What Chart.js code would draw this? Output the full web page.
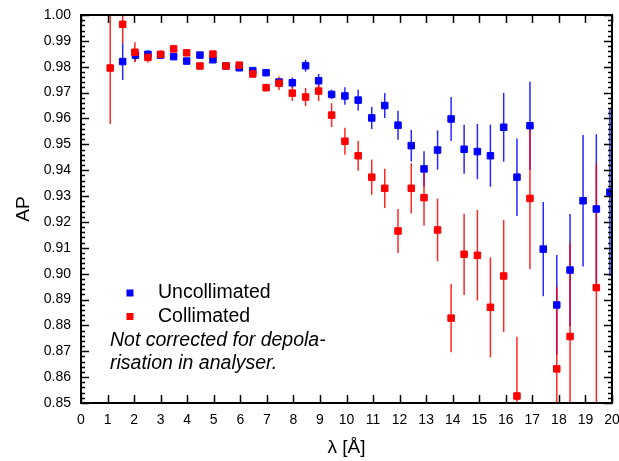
<!DOCTYPE html>
<html>
<head>
<meta charset="utf-8">
<script src="https://cdn.jsdelivr.net/npm/chart.js@4/dist/chart.umd.min.js"></script>
<style>
  html, body { margin: 0; padding: 0; background: #fff; }
  #c { display: block; }
</style>
</head>
<body>
<canvas id="c" width="619" height="461"></canvas>
<script>
// Analysing power vs wavelength, with one-sigma uncertainties
const uncollLambda = [1.57, 2.05, 2.52, 3.00, 3.49, 3.98, 4.48, 4.97, 5.46, 5.96, 6.47, 6.97,
  7.46, 7.96, 8.46, 8.95, 9.44, 9.94, 10.44, 10.95, 11.44, 11.94, 12.44, 12.92, 13.43, 13.94,
  14.43, 14.93, 15.42, 15.92, 16.42, 16.91, 17.41, 17.92, 18.42, 18.91, 19.41, 19.92];
const uncollAP = [0.9820, 0.9845, 0.9848, 0.9845, 0.9839, 0.9822, 0.9845, 0.9827, 0.9803, 0.9796, 0.9785, 0.9777,
  0.9741, 0.9738, 0.9804, 0.9746, 0.9693, 0.9687, 0.9671, 0.9602, 0.9650, 0.9574, 0.9495, 0.9405, 0.9478, 0.9598,
  0.9481, 0.9472, 0.9456, 0.9566, 0.9373, 0.9572, 0.9095, 0.8879, 0.9014, 0.9282, 0.9250, 0.9315];
const uncollErr = [0.0071, 0.0024, 0.0015, 0.0012, 0.0010, 0.0010, 0.0010, 0.0012, 0.0010, 0.0012, 0.0012, 0.0012,
  0.0015, 0.0020, 0.0023, 0.0026, 0.0018, 0.0034, 0.0040, 0.0043, 0.0048, 0.0056, 0.0061, 0.0068, 0.0076, 0.0085,
  0.0095, 0.0107, 0.0120, 0.0133, 0.0150, 0.0170, 0.0182, 0.0193, 0.0217, 0.0254, 0.0289, 0.0325];

const collLambda = [1.10, 1.57, 2.03, 2.52, 3.00, 3.49, 3.98, 4.48, 4.97, 5.46, 5.96, 6.47, 6.97,
  7.46, 7.96, 8.46, 8.95, 9.44, 9.94, 10.44, 10.95, 11.44, 11.94, 12.44, 12.92, 13.43, 13.94,
  14.43, 14.93, 15.42, 15.92, 16.42, 16.91, 17.92, 18.42, 19.41];
const collAP = [0.9795, 0.9964, 0.9856, 0.9836, 0.9848, 0.9869, 0.9854, 0.9803, 0.9849, 0.9803, 0.9806, 0.9772, 0.9719,
  0.9736, 0.9698, 0.9683, 0.9706, 0.9613, 0.9512, 0.9456, 0.9373, 0.9330, 0.9165, 0.9330, 0.9294, 0.9169, 0.8828,
  0.9075, 0.9071, 0.8870, 0.8991, 0.8527, 0.9291, 0.8632, 0.8757, 0.8946];
const collErr = [0.0216, 0.0073, 0.0039, 0.0020, 0.0015, 0.0012, 0.0010, 0.0010, 0.0012, 0.0010, 0.0012, 0.0015, 0.0015,
  0.0026, 0.0030, 0.0035, 0.0039, 0.0046, 0.0052, 0.0058, 0.0068, 0.0076, 0.0085, 0.0097, 0.0108, 0.0121, 0.0132,
  0.0157, 0.0175, 0.0193, 0.0216, 0.0229, 0.0274, 0.0316, 0.0360, 0.0480];

const seriesNames = ['Uncollimated', 'Collimated'];
const noteLines = ['Not corrected for depola-', 'risation in analyser.'];
const xTitle = 'λ [Å]';
const yTitle = 'AP';
const xRange = [0, 20];
const yRange = [0.85, 1.00];
const yMinorStep = 0.002;

const BLUE = '#0000ff';
const RED = '#ff0000';
const FONT = "'Liberation Sans', Arial, Helvetica, sans-serif";

const toPoints = (xs, ys) => xs.map((x, i) => ({ x, y: ys[i] }));

// vertical error bars, drawn beneath the markers
const errorBars = {
  id: 'errorBars',
  beforeDatasetsDraw(chart) {
    const { ctx, chartArea: a, scales: { x, y } } = chart;
    ctx.save();
    ctx.beginPath();
    ctx.rect(a.left, a.top, a.right - a.left, a.bottom - a.top);
    ctx.clip();
    ctx.lineWidth = 1.5;
    ctx.globalAlpha = 0.85;
    chart.data.datasets.slice().reverse().forEach(ds => {
      ctx.strokeStyle = ds.backgroundColor;
      ds.data.forEach((p, i) => {
        const e = ds.errors[i];
        const px = x.getPixelForValue(p.x);
        ctx.beginPath();
        ctx.moveTo(px, y.getPixelForValue(p.y + e));
        ctx.lineTo(px, y.getPixelForValue(p.y - e));
        ctx.stroke();
      });
    });
    ctx.restore();
  }
};

// boxed frame with inward ticks on all four sides
const frameTicks = {
  id: 'frameTicks',
  afterDatasetsDraw(chart) {
    const { ctx, chartArea: a, scales: { x, y } } = chart;
    ctx.save();
    ctx.strokeStyle = '#000';
    ctx.lineWidth = 1.5;
    x.ticks.forEach(t => {
      const px = Math.round(x.getPixelForValue(t.value)) + 0.5;
      ctx.beginPath();
      ctx.moveTo(px, a.bottom); ctx.lineTo(px, a.bottom - 8);
      ctx.moveTo(px, a.top); ctx.lineTo(px, a.top + 8);
      ctx.stroke();
    });
    const n = Math.round((yRange[1] - yRange[0]) / yMinorStep);
    for (let k = 0; k <= n; k++) {
      const v = yRange[0] + k * yMinorStep;
      const py = Math.round(y.getPixelForValue(v)) + 0.5;
      const len = k % 5 === 0 ? 8 : 4;
      ctx.beginPath();
      ctx.moveTo(a.left, py); ctx.lineTo(a.left + len, py);
      ctx.moveTo(a.right, py); ctx.lineTo(a.right - len, py);
      ctx.stroke();
    }
    ctx.lineWidth = 2;
    ctx.strokeRect(a.left, a.top, a.right - a.left, a.bottom - a.top);
    ctx.restore();
  }
};

// in-plot key and annotation
const keyNote = {
  id: 'keyNote',
  afterDraw(chart) {
    const { ctx } = chart;
    const ds = chart.data.datasets;
    const byLabel = l => ds.find(d => d.label === l);
    ctx.save();
    ctx.textBaseline = 'middle';
    ctx.textAlign = 'left';
    ctx.fillStyle = '#000';
    ctx.font = '19.5px ' + FONT;
    seriesNames.forEach((name, i) => {
      const yy = 293 + i * 23.5;
      ctx.fillStyle = byLabel(name).backgroundColor;
      ctx.fillRect(126.5, yy - 3.5, 7, 7);
      ctx.fillStyle = '#000';
      ctx.fillText(name, 158, yy);
    });
    ctx.font = 'italic 19.5px ' + FONT;
    noteLines.forEach((line, i) => ctx.fillText(line, 110, 341 + i * 23));
    ctx.restore();
  }
};

new Chart(document.getElementById('c'), {
  type: 'scatter',
  data: {
    datasets: [
      {
        label: seriesNames[1],
        data: toPoints(collLambda, collAP),
        errors: collErr,
        backgroundColor: RED,
        borderColor: RED,
        order: 0
      },
      {
        label: seriesNames[0],
        data: toPoints(uncollLambda, uncollAP),
        errors: uncollErr,
        backgroundColor: BLUE,
        borderColor: BLUE,
        order: 1
      }
    ]
  },
  options: {
    responsive: false,
    animation: false,
    events: [],
    layout: { padding: { left: 0, top: 15, right: 7, bottom: 0 } },
    elements: {
      point: { pointStyle: 'rect', radius: 4.6, borderWidth: 1, hoverRadius: 4.6 }
    },
    datasets: { scatter: { clip: 0 } },
    plugins: { legend: { display: false }, tooltip: { enabled: false } },
    scales: {
      x: {
        type: 'linear',
        min: xRange[0], max: xRange[1],
        grid: { display: false, drawTicks: false },
        border: { display: false },
        ticks: { stepSize: 1, color: '#000', padding: 9, maxRotation: 0, autoSkip: false,
                 font: { family: FONT, size: 14 } },
        title: { display: true, text: xTitle, color: '#000',
                 font: { family: FONT, size: 19 }, padding: { top: 0, bottom: 2 } },
        afterFit(s) { s.height = 58; s.paddingLeft = 0; s.paddingRight = 0; }
      },
      y: {
        type: 'linear',
        min: yRange[0], max: yRange[1],
        grid: { display: false, drawTicks: false },
        border: { display: false },
        ticks: { stepSize: 0.01, color: '#000', padding: 10, autoSkip: false,
                 font: { family: FONT, size: 14 },
                 callback: v => Number(v).toFixed(2) },
        title: { display: true, text: yTitle, color: '#000',
                 font: { family: FONT, size: 19 }, padding: { top: 12, bottom: 0 } },
        afterFit(s) { s.width = 81; s.paddingTop = 0; s.paddingBottom = 0; }
      }
    }
  },
  plugins: [errorBars, frameTicks, keyNote]
});
</script>
</body>
</html>
